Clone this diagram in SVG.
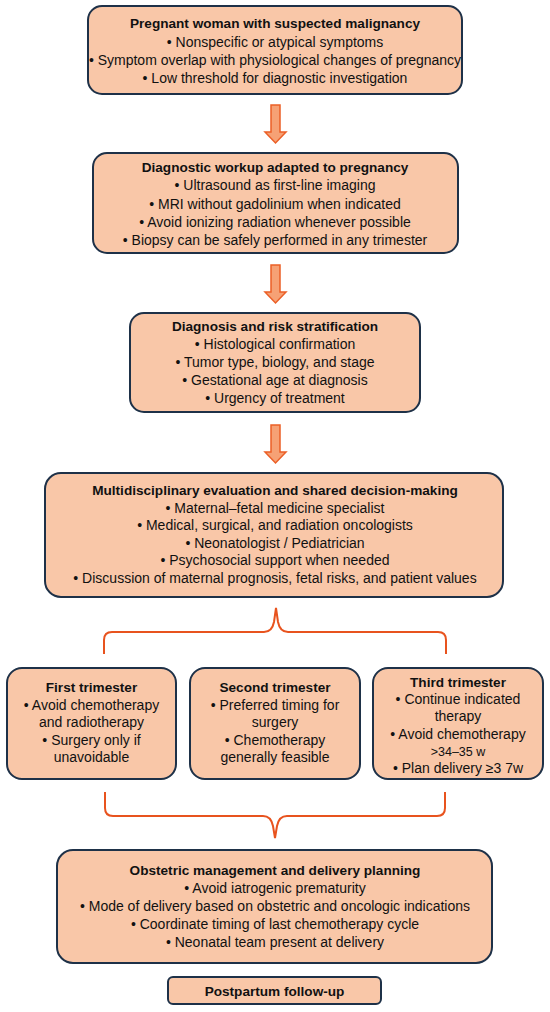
<svg xmlns="http://www.w3.org/2000/svg" width="550" height="1012" viewBox="0 0 550 1012">
<style>
.box{fill:#F9C7A8;stroke:#1E3148;stroke-width:2}
.t{font-family:"Liberation Sans",Arial,sans-serif;font-size:14px;fill:#111;text-anchor:middle}
.b{font-weight:bold;font-size:13.6px}
.arrow{fill:#F6A175;stroke:#EC5F26;stroke-width:1.5;stroke-linejoin:miter}
.brace{fill:none;stroke:#E8531E;stroke-width:2}
</style>
<rect width="550" height="1012" fill="#fff"/>
<g id="connectors">
<polygon class="arrow" points="271,105 280,105 280,132 286,132 275.5,143 265,132 271,132"/>
<polygon class="arrow" points="271,265 280,265 280,292 286,292 275.5,303 265,292 271,292"/>
<polygon class="arrow" points="271,425 280,425 280,452 286,452 275.5,463 265,452 271,452"/>
<path class="brace" d="M104,654 L104,640 Q104,632 112,632 L264,632 Q272,632 274,622 L276,608 L278,622 Q280,632 288,632 L438,632 Q446,632 446,640 L446,654"/>
<path class="brace" d="M105,792 L105,808 Q105,816 113,816 L263,816 Q271,816 273,826 L275,838 L277,826 Q279,816 287,816 L437,816 Q445,816 445,808 L445,792"/>
</g>
<g id="n1">
<rect class="box" x="88" y="6" width="374" height="88" rx="14"/>
<text class="t b" x="275" y="28">Pregnant woman with suspected malignancy</text>
<text class="t" x="275" y="46.5">• Nonspecific or atypical symptoms</text>
<text class="t" x="275" y="65">• Symptom overlap with physiological changes of pregnancy</text>
<text class="t" x="275" y="83">• Low threshold for diagnostic investigation</text>
</g>
<g id="n2">
<rect class="box" x="93" y="153" width="365" height="100" rx="14"/>
<text class="t b" x="275" y="172">Diagnostic workup adapted to pregnancy</text>
<text class="t" x="275" y="190.3">• Ultrasound as first-line imaging</text>
<text class="t" x="275" y="208.6">• MRI without gadolinium when indicated</text>
<text class="t" x="275" y="226.9">• Avoid ionizing radiation whenever possible</text>
<text class="t" x="275" y="245.2">• Biopsy can be safely performed in any trimester</text>
</g>
<g id="n3">
<rect class="box" x="130" y="313" width="290" height="99" rx="14"/>
<text class="t b" x="275" y="331">Diagnosis and risk stratification</text>
<text class="t" x="275" y="349">• Histological confirmation</text>
<text class="t" x="275" y="367">• Tumor type, biology, and stage</text>
<text class="t" x="275" y="385">• Gestational age at diagnosis</text>
<text class="t" x="275" y="403">• Urgency of treatment</text>
</g>
<g id="n4">
<rect class="box" x="45" y="473" width="458" height="124" rx="16"/>
<text class="t b" x="275" y="495">Multidisciplinary evaluation and shared decision-making</text>
<text class="t" x="275" y="512.6">• Maternal–fetal medicine specialist</text>
<text class="t" x="275" y="530.2">• Medical, surgical, and radiation oncologists</text>
<text class="t" x="275" y="547.8">• Neonatologist / Pediatrician</text>
<text class="t" x="275" y="565.4">• Psychosocial support when needed</text>
<text class="t" x="275" y="583">• Discussion of maternal prognosis, fetal risks, and patient values</text>
</g>
<g id="n5">
<rect class="box" x="7" y="668" width="169" height="111" rx="15"/>
<text class="t b" x="91.5" y="692">First trimester</text>
<text class="t" x="91.5" y="709.6">• Avoid chemotherapy</text>
<text class="t" x="91.5" y="727.2">and radiotherapy</text>
<text class="t" x="91.5" y="744.8">• Surgery only if</text>
<text class="t" x="91.5" y="762.4">unavoidable</text>
</g>
<g id="n6">
<rect class="box" x="190" y="668" width="170" height="111" rx="15"/>
<text class="t b" x="275" y="692">Second trimester</text>
<text class="t" x="275" y="709.6">• Preferred timing for</text>
<text class="t" x="275" y="727.2">surgery</text>
<text class="t" x="275" y="744.8">• Chemotherapy</text>
<text class="t" x="275" y="762.4">generally feasible</text>
</g>
<g id="n7">
<rect class="box" x="373" y="668" width="170" height="111" rx="15"/>
<text class="t b" x="458" y="687">Third trimester</text>
<text class="t" x="458" y="704.2">• Continue indicated</text>
<text class="t" x="458" y="721.4">therapy</text>
<text class="t" x="458" y="738.6">• Avoid chemotherapy</text>
<text class="t" x="458" y="755.8" style="font-size:12.5px">&gt;34–35 w</text>
<text class="t" x="458" y="773">• Plan delivery ≥3 7w</text>
</g>
<g id="n8">
<rect class="box" x="57" y="850" width="435" height="113" rx="16"/>
<text class="t b" x="275" y="875">Obstetric management and delivery planning</text>
<text class="t" x="275" y="893">• Avoid iatrogenic prematurity</text>
<text class="t" x="275" y="911">• Mode of delivery based on obstetric and oncologic indications</text>
<text class="t" x="275" y="929">• Coordinate timing of last chemotherapy cycle</text>
<text class="t" x="275" y="947">• Neonatal team present at delivery</text>
</g>
<g id="n9">
<rect class="box" x="168" y="977" width="213" height="27" rx="5"/>
<text class="t b" x="274.5" y="995.5">Postpartum follow-up</text>
</g>
</svg>
